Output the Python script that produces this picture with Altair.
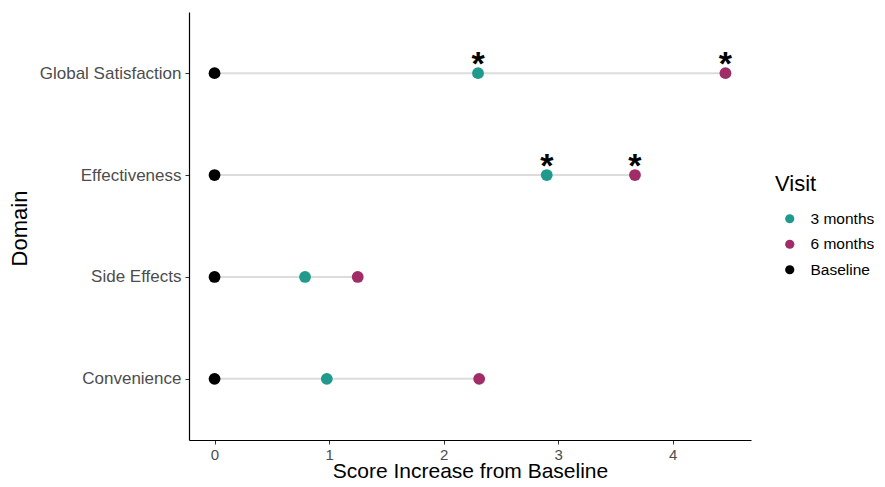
import altair as alt
import pandas as pd

domains = ["Global Satisfaction", "Effectiveness", "Side Effects", "Convenience"]
baseline = [0.0, 0.0, 0.0, 0.0]
three_months = [2.30, 2.90, 0.79, 0.98]
six_months = [4.46, 3.67, 1.25, 2.31]
sig_three = [True, True, False, False]
sig_six = [True, True, False, False]
visits = ["3 months", "6 months", "Baseline"]
visit_colors = ["#1f9a8c", "#a02c68", "#000000"]

rows = []
for i, d in enumerate(domains):
    rows.append({"Domain": d, "Visit": "Baseline", "Score": baseline[i], "sig": False})
    rows.append({"Domain": d, "Visit": "3 months", "Score": three_months[i], "sig": sig_three[i]})
    rows.append({"Domain": d, "Visit": "6 months", "Score": six_months[i], "sig": sig_six[i]})
pts = pd.DataFrame(rows)
seg = pd.DataFrame({"Domain": domains, "lo": baseline,
                    "hi": [max(a, b) for a, b in zip(three_months, six_months)]})

FONT = "Liberation Sans"
xscale = alt.Scale(domain=[-0.223, 4.683], nice=False, zero=False)
yscale = alt.Scale(type="point", domain=domains, padding=0.6)

xax = alt.Axis(values=[0, 1, 2, 3, 4], format="d", grid=False, domain=True, domainColor="#000000",
               domainWidth=1.2, tickColor="#333333", tickSize=4, labelFontSize=15, labelColor="#4d4d4d",
               labelFont=FONT, labelPadding=3, title="Score Increase from Baseline", titleFont=FONT,
               titleFontSize=21, titleFontWeight="normal", titleColor="#000000",
               titleBaseline="alphabetic", titleY=37.5)
yax = alt.Axis(grid=False, domain=True, domainColor="#000000", domainWidth=1.2, tickColor="#333333",
               tickSize=4, labelFontSize=17, labelColor="#4d4d4d", labelFont=FONT, labelPadding=4,
               title="Domain", titleFont=FONT, titleFontSize=22, titleFontWeight="normal",
               titleColor="#000000", titleBaseline="alphabetic", titleX=-163, titleY=216)

rules = alt.Chart(seg).mark_rule(color="#dcdcdc", strokeWidth=2).encode(
    x=alt.X("lo:Q", scale=xscale, axis=xax),
    x2="hi:Q",
    y=alt.Y("Domain:N", scale=yscale, axis=yax, sort=domains),
)

points = alt.Chart(pts).mark_circle(size=140, opacity=1).encode(
    x=alt.X("Score:Q", scale=xscale),
    y=alt.Y("Domain:N", scale=yscale, sort=domains),
    color=alt.Color("Visit:N", scale=alt.Scale(domain=visits, range=visit_colors),
                    legend=alt.Legend(title="Visit", orient="none", legendX=586, legendY=162,
                                      titleFont=FONT, titleFontSize=22, titleFontWeight="normal",
                                      titleColor="#000000", titlePadding=15, labelFont=FONT,
                                      labelFontSize=15.5, labelColor="#000000", symbolSize=85,
                                      symbolType="circle", rowPadding=8.5, labelOffset=13,
                                      symbolOffset=7)),
)

stars = alt.Chart(pts).transform_filter("datum.sig").mark_text(
    text="*", fontSize=34, fontWeight="bold", font=FONT, color="#000000", baseline="alphabetic", dy=2
).encode(
    x=alt.X("Score:Q", scale=xscale),
    y=alt.Y("Domain:N", scale=yscale, sort=domains),
)

chart = alt.layer(rules, points, stars).properties(
    width=562, height=428,
    autosize=alt.AutoSizeParams(type="none"),
    padding={"left": 181, "top": 4, "right": 126, "bottom": 39},
).configure_view(stroke=None)

chart.save("out.html", embed_options={"renderer": "svg", "actions": False})
